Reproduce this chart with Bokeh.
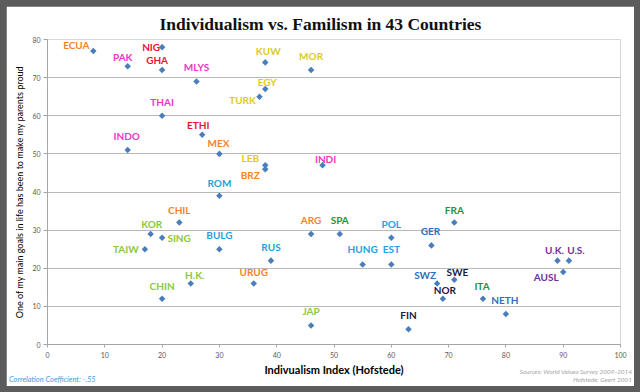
import math
from bokeh.plotting import figure
from bokeh.layouts import column
from bokeh.models import ColumnDataSource, Range1d, FixedTicker, Div
from bokeh.core.properties import value
from bokeh.embed import file_html
from bokeh.resources import INLINE

# ---- data ----
countries = ["ECUA", "PAK", "NIG", "GHA", "MLYS", "THAI", "INDO", "ETHI", "MEX",
             "KUW", "MOR", "EGY", "TURK", "LEB", "BRZ", "INDI", "ROM", "CHIL",
             "KOR", "SING", "TAIW", "BULG", "H.K.", "CHIN", "RUS", "URUG", "ARG",
             "SPA", "POL", "HUNG", "EST", "JAP", "FIN", "FRA", "GER", "U.K.",
             "U.S.", "AUSL", "SWZ", "SWE", "NOR", "ITA", "NETH"]
individualism = [8, 14, 20, 20, 26, 20, 14, 27, 30,
                 38, 46, 38, 37, 38, 38, 48, 30, 23,
                 18, 20, 17, 30, 25, 20, 39, 36, 46,
                 51, 60, 55, 60, 46, 63, 71, 67, 89,
                 91, 90, 68, 71, 69, 76, 80]
parents_proud = [77, 73, 78, 72, 69, 60, 51, 55, 50,
                 74, 72, 67, 65, 47, 46, 47, 39, 32,
                 29, 28, 25, 25, 16, 12, 22, 16, 29,
                 29, 28, 21, 21, 5, 4, 32, 26, 22,
                 22, 19, 16, 17, 12, 12, 8]
x_ticks = [0, 10, 20, 30, 40, 50, 60, 70, 80, 90, 100]
y_ticks = [0, 10, 20, 30, 40, 50, 60, 70, 80]
title_text = "Individualism vs. Familism in 43 Countries"
note_left = "Correlation Coefficient: -.55"
note_right = ["Sources: World Values Survey 2009-2014", "Hofstede, Geert 2001"]

# ---- label styling (colours and pixel offsets of each country label) ----
ORANGE, MAGENTA, RED, YELLOW = "#F5822A", "#F035C8", "#EE1030", "#DCCB1E"
YGREEN, LBLUE, GREEN, BLUE = "#8DC63F", "#1FA0E0", "#23913A", "#2F6EBA"
NAVY, PURPLE = "#1A1A40", "#7030A0"
label_colors = [ORANGE, MAGENTA, RED, RED, MAGENTA, MAGENTA, MAGENTA, RED, ORANGE,
                YELLOW, YELLOW, YELLOW, YELLOW, YELLOW, ORANGE, MAGENTA, LBLUE, ORANGE,
                YGREEN, YGREEN, YGREEN, LBLUE, YGREEN, YGREEN, LBLUE, ORANGE, ORANGE,
                GREEN, LBLUE, LBLUE, LBLUE, YGREEN, NAVY, GREEN, BLUE, PURPLE,
                PURPLE, PURPLE, BLUE, NAVY, NAVY, GREEN, BLUE]
label_dx = [-17, -5, -11, -5, 0, 0, -1, -4, -1,
            3, 0, 2, -17, -15, -15, 3, 0, 0,
            1, 17, -19, 0, 4, 0, 0, 0, 0,
            0, 0, 0, 0, 0, 0, 0, -1, -3,
            7, -17, -12, 3, 2, -1, -1]
label_dy = [-6, -9, 0, -10, -14, -14, -14, -10, -11,
            -11, -14, -7, 3, -7, 6, -6, -13, -13,
            -10, 0, 0, -14, -9, -13, -14, -12, -14,
            -14, -14, -15, -15, -14, -14, -13, -14, -11,
            -11, 5, -9, -8, -9, -13, -14]

source = ColumnDataSource(dict(x=individualism, y=parents_proud, name=countries,
                               color=label_colors, dx=label_dx, dy=label_dy))

M = 6
W, H = 640 - 2 * M, 392 - 2 * M
p = figure(width=W, height=H, output_backend="svg", toolbar_location=None,
           x_range=Range1d(0, 100), y_range=Range1d(0, 80),
           min_border_left=47 - M, min_border_right=640 - M - 620,
           min_border_top=38 - M, min_border_bottom=392 - M - 344)
p.margin = (M, M, M, M)
p.background_fill_color = "white"
p.border_fill_color = "white"
p.outline_line_color = None

p.title.text = title_text
p.title.text_font = "Liberation Serif"
p.title.text_font_style = "bold"
p.title.text_font_size = "17.5px"
p.title.text_color = "#111111"
p.title.align = "left"
p.title.offset = 112
p.title.standoff = 11

# grid
p.xgrid.grid_line_color = None
p.ygrid.grid_line_color = "#B9B9B9"
p.ygrid.grid_line_width = 1
p.ygrid.ticker = FixedTicker(ticks=y_ticks)

# axes
for ax in (p.xaxis[0], p.yaxis[0]):
    ax.axis_line_color = "#A6A6A6"
    ax.major_tick_line_color = "#A6A6A6"
    ax.major_tick_in = 0
    ax.major_tick_out = 4
    ax.minor_tick_line_color = None
    ax.major_label_text_font = "Lato"
    ax.major_label_text_font_size = "7px"
    ax.major_label_text_color = "#595959"
    ax.axis_label_text_font = "Lato"
    ax.axis_label_text_font_style = "normal"
    ax.axis_label_text_color = "black"
p.xaxis[0].ticker = FixedTicker(ticks=x_ticks)
p.yaxis[0].ticker = FixedTicker(ticks=y_ticks)
p.xaxis[0].major_tick_out = 3
p.xaxis[0].major_label_standoff = 4
p.yaxis[0].major_label_standoff = 3
p.xaxis[0].axis_label = "Indivualism Index (Hofstede)"
p.xaxis[0].axis_label_text_font_size = "11px"
p.xaxis[0].axis_label_text_font_style = "bold"
p.xaxis[0].axis_label_standoff = 2
p.yaxis[0].axis_label = "One of my main goals in life has been to make my parents proud"
p.yaxis[0].axis_label_text_font_size = "9px"
p.yaxis[0].axis_label_standoff = 4

# points
p.scatter("x", "y", source=source, marker="square", angle=math.pi / 4, size=4.6,
          fill_color="#4A7EBB", line_color=None)

# country labels
p.text("x", "y", text="name", source=source, x_offset="dx", y_offset="dy",
       text_color="color", text_font=value("Lato"), text_font_size="10px",
       text_font_style="bold", text_align="center", text_baseline="middle")

# footnotes, laid over the bottom strip of the chart
notes_html = (
    '<div style="position:relative;width:%dpx;height:20px;font-family:Lato,sans-serif;'
    'font-style:italic;">'
    '<div style="position:absolute;left:3px;top:9px;font-size:7.5px;line-height:9px;'
    'color:#3A9BE0;white-space:nowrap;">%s</div>'
    '<div style="position:absolute;right:2px;top:2px;font-size:6.5px;line-height:8px;'
    'color:#A6A6A6;text-align:right;white-space:nowrap;">%s</div></div>'
) % (W, note_left, "<br>".join(note_right))
notes = Div(text=notes_html, width=W, height=20, margin=(-26, M, M, M))

layout = column(p, notes, spacing=0, styles={"background-color": "#5C5C5C"})
open("out.html", "w").write(file_html(layout, INLINE))
